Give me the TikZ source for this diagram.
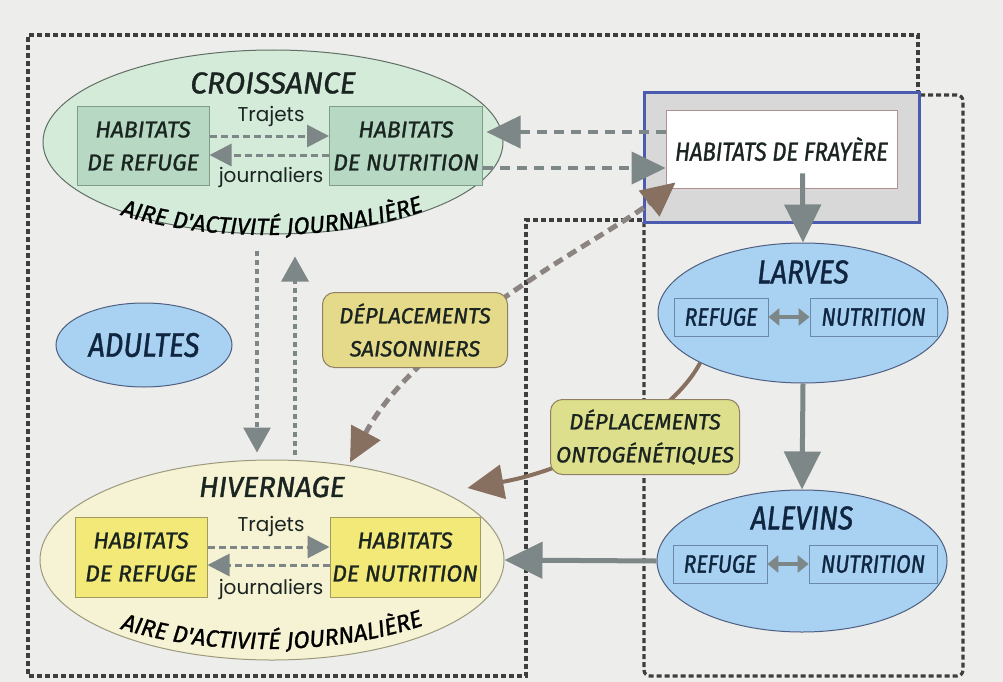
\documentclass[tikz,border=0pt]{standalone}
\usepackage{fontspec}
\usetikzlibrary{shapes.geometric,arrows.meta,decorations.text,calc}
\newfontfamily\lf[FakeBold=1.2]{Fira Sans}
\newfontfamily\lfc[FakeStretch=0.85,FakeBold=1.2]{Fira Sans}
\newfontfamily\gf{Poppins}
\newcommand\airefont{\lf\itshape\fontsize{23.5}{24}\selectfont}
\definecolor{bgc}{HTML}{EDEDEB}
\definecolor{dashc}{HTML}{3E3E3E}
\definecolor{croiF}{HTML}{D5EBDA}
\definecolor{croiD}{HTML}{5F6F64}
\definecolor{boxG}{HTML}{B7D8C2}
\definecolor{boxGD}{HTML}{7E9C88}
\definecolor{hivF}{HTML}{F6F3D4}
\definecolor{hivD}{HTML}{9C9A7C}
\definecolor{boxY}{HTML}{F3E978}
\definecolor{boxYD}{HTML}{A09A60}
\definecolor{blueF}{HTML}{A8D1F2}
\definecolor{blueD}{HTML}{4F5F80}
\definecolor{blueBox}{HTML}{6A88A8}
\definecolor{arrG}{HTML}{7D8787}
\definecolor{brownc}{HTML}{877060}
\definecolor{brownl}{HTML}{8C8480}
\definecolor{saisF}{HTML}{E5D98A}
\definecolor{saisD}{HTML}{8E8060}
\definecolor{ontoF}{HTML}{DEDF8C}
\definecolor{frayB}{HTML}{4B5BB0}
\definecolor{frayG}{HTML}{D8D8D8}
\definecolor{frayinD}{HTML}{B09090}
\definecolor{txtD}{HTML}{1A2420}
\definecolor{txtB}{HTML}{0F2540}
\begin{document}
\begin{tikzpicture}[x=1pt,y=-1pt,
  border/.style={draw=dashc,line width=3.2pt,dash pattern=on 5pt off 3pt},
  ell/.style={ellipse,line width=1pt,inner sep=0pt},
  ttl/.style={inner sep=0pt,font=\lf\itshape\fontsize{30}{30}\selectfont,text=txtD},
  bttl/.style={inner sep=0pt,font=\lfc\itshape\fontsize{33}{33}\selectfont,text=txtB},
  hab/.style={rectangle,line width=1pt,inner sep=0pt,align=center,text=txtD,
    font=\lf\itshape\fontsize{23}{33}\selectfont},
  habG/.style={hab,draw=boxGD,fill=boxG},
  habY/.style={hab,draw=boxYD,fill=boxY},
  small/.style={rectangle,draw=blueBox,line width=0.8pt,inner sep=0pt,text=txtB,
    font=\lfc\itshape\fontsize{25}{25}\selectfont,minimum height=38},
  trj/.style={inner sep=0pt,font=\gf\fontsize{20}{20}\selectfont,text=txtD},
  trajarr/.style={draw=arrG,line width=3pt,dash pattern=on 7pt off 4pt,
    -{Triangle[length=22pt,width=22pt]}},
  frarr/.style={draw=arrG,line width=4pt,dash pattern=on 10pt off 7pt,
    -{Triangle[length=34pt,width=32pt]}},
  varr/.style={draw=arrG,line width=3.2pt,dash pattern=on 5pt off 4pt,
    -{Triangle[length=25pt,width=27pt]}},
  solarr/.style={draw=arrG,line width=5pt,-{Triangle[length=38pt,width=36pt]}},
  dbl/.style={draw=arrG,line width=4pt,{Triangle[length=11pt,width=17pt]}-{Triangle[length=11pt,width=17pt]}},
  saisline/.style={draw=brownl,line width=5pt,dash pattern=on 10pt off 6pt,
    {Triangle[length=34pt,width=32pt,color=brownc]}-{Triangle[length=34pt,width=32pt,color=brownc]}},
  ontoline/.style={draw=brownc,line width=4pt,-{Triangle[length=36pt,width=34pt]}},
  dbox/.style={rectangle,rounded corners=12pt,line width=1pt,draw=saisD,inner sep=0pt,
    align=center,text=txtD,font=\lf\itshape\fontsize{22}{33}\selectfont}]
\fill[bgc] (0,0) rectangle (1003,682);
\useasboundingbox (0,0) rectangle (1003,682);
% dashed region borders
\draw[border] (918,95) -- (918,35) -- (28,35) -- (28,676) -- (526,676) -- (526,220) -- (644,220);
\draw[border,rounded corners=6pt] (644,222) -- (644,676) -- (963,676) -- (963,95) -- (918,95);
% CROISSANCE
\node[ell,fill=croiF,draw=croiD,minimum width=460,minimum height=184] (croi) at (273,142) {};
\node[ttl] (croiT) at (273,83) {CROISSANCE};
\node[habG,minimum width=132,minimum height=78] (refC) at (143,146) {HABITATS\\DE REFUGE};
\node[habG,minimum width=153,minimum height=78] (nutC) at (406,146) {HABITATS\\DE NUTRITION};
\node[trj] (trajC) at (271,116) {Trajets};
\node[trj] (jourC) at (271,177) {journaliers};
\path[decorate,decoration={text along path,text align=center,
  text={|\airefont|AIRE D'ACTIVITÉ JOURNALIÈRE}}]
  (106,210) .. controls (200,244) and (340,244) .. (438,206);
% HIVERNAGE
\node[ell,fill=hivF,draw=hivD,minimum width=464,minimum height=200] (hiv) at (272,560) {};
\node[ttl,font=\lf\itshape\fontsize{29}{29}\selectfont] (hivT) at (272,487) {HIVERNAGE};
\node[habY,minimum width=132,minimum height=80] (refH) at (141,557) {HABITATS\\DE REFUGE};
\node[habY,minimum width=150,minimum height=80] (nutH) at (405,557) {HABITATS\\DE NUTRITION};
\node[trj] (trajH) at (271,526) {Trajets};
\node[trj] (jourH) at (271,589) {journaliers};
\path[decorate,decoration={text along path,text align=center,
  text={|\airefont|AIRE D'ACTIVITÉ JOURNALIÈRE}}]
  (106,624) .. controls (200,658) and (340,658) .. (438,620);
% ADULTES
\node[ell,fill=blueF,draw=blueD,minimum width=176,minimum height=84,text=txtB,
  font=\lfc\itshape\fontsize{34}{34}\selectfont] (adu) at (144,345) {ADULTES};
% FRAYERE
\node[rectangle,draw=frayB,line width=3pt,fill=frayG,minimum width=275,minimum height=129,inner sep=0pt] (fray) at (781.5,157.5) {};
\node[rectangle,draw=frayinD,line width=0.8pt,fill=white,minimum width=231,minimum height=78,inner sep=0pt,
  text=txtD,font=\lfc\itshape\fontsize{26}{26}\selectfont] (frayin) at (781.5,149) {HABITATS DE FRAYÈRE};
% LARVES
\node[ell,fill=blueF,draw=blueD,minimum width=290,minimum height=140] (larv) at (803,313) {};
\node[bttl] (larvT) at (803,272) {LARVES};
\node[small,minimum width=94] (larvR) at (721,317) {REFUGE};
\node[small,minimum width=127] (larvN) at (873.5,317) {NUTRITION};
% ALEVINS
\node[ell,fill=blueF,draw=blueD,minimum width=290,minimum height=142] (alev) at (802,561) {};
\node[bttl] (alevT) at (802,518) {ALEVINS};
\node[small,minimum width=94] (alevR) at (720,564) {REFUGE};
\node[small,minimum width=128] (alevN) at (873,564) {NUTRITION};
% daily trips
\draw[trajarr] ([yshift=10pt]refC.east) -- ([yshift=10pt]nutC.west);
\draw[trajarr] ([yshift=-9pt]nutC.west) -- ([yshift=-9pt]refC.east);
\draw[trajarr] ([yshift=10pt]refH.east) -- ([yshift=10pt]nutH.west);
\draw[trajarr] ([yshift=-8pt]nutH.west) -- ([yshift=-8pt]refH.east);
% croissance <-> frayere
\draw[frarr] ([yshift=17pt]frayin.west) -- ([xshift=-17pt,yshift=10pt]croi.east);
\draw[frarr] ([yshift=-22pt]nutC.east) -- ([yshift=-19pt]frayin.west);
% croissance <-> hivernage
\draw[varr] ([xshift=-16pt,yshift=-16pt]croi.south) -- ([xshift=-15pt,yshift=7pt]hiv.north);
\draw[varr] ([xshift=23pt,yshift=5pt]hiv.north) -- ([xshift=22pt,yshift=-22pt]croi.south);
% development chain
\draw[solarr] ([xshift=21pt,yshift=15pt]frayin.south) -- (larv.north);
\draw[solarr] (larv.south) -- (alev.north);
\draw[solarr] (alev.west) -- (hiv.east);
\draw[dbl] (larvR.east) -- (larvN.west);
\draw[dbl] (alevR.east) -- (alevN.west);
% movements
\draw[saisline] ([xshift=78pt,yshift=-3pt]hiv.north) .. controls (420,330) and (610,235) .. ([xshift=10pt,yshift=6pt]frayin.south west);
\draw[ontoline] (larv.south west) .. controls (670,420) and (570,470) .. ([xshift=-37pt,yshift=72pt]hiv.east);
\node[dbox,fill=saisF,minimum width=185,minimum height=75] (sais) at (415,330) {DÉPLACEMENTS\\SAISONNIERS};
\node[dbox,fill=ontoF,minimum width=189,minimum height=75] (onto) at (645,437) {DÉPLACEMENTS\\ONTOGÉNÉTIQUES};
\end{tikzpicture}
\end{document}
